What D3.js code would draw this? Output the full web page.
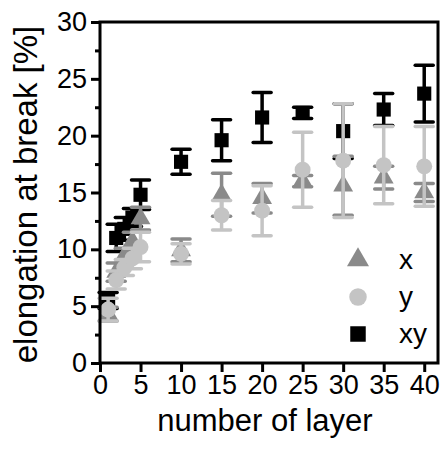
<!DOCTYPE html>
<html>
<head>
<meta charset="utf-8">
<script src="https://cdn.jsdelivr.net/npm/d3@7"></script>
<style>
  body { margin: 0; background: #fff; }
  svg { display: block; font-family: "Liberation Sans", Arial, sans-serif; }
</style>
</head>
<body>
<svg id="chart"></svg>
<script>
// number of layers on the x axis
const layers = [1, 2, 3, 4, 5, 10, 15, 20, 25, 30, 35, 40]

// elongation at break [%] and standard deviation, per series
const xMean = [4.3, 8.0, 9.4, 10.7, 12.7, 9.9, 14.8, 14.5, 16.0, 15.6, 16.3, 15.0]
const xErr  = [0.6, 0.8, 0.7, 0.8, 1.0, 1.0, 1.9, 1.3, 0.5, 2.6, 1.0, 0.8]
const yMean = [4.7, 7.3, 8.4, 9.2, 10.2, 9.6, 13.0, 13.4, 17.0, 17.8, 17.4, 17.3]
const yErr  = [1.0, 0.8, 0.7, 0.9, 1.3, 0.9, 1.3, 2.2, 3.3, 5.0, 3.4, 3.5]
const xyMean = [5.5, 11.0, 11.8, 12.8, 14.8, 17.7, 19.6, 21.6, 22.0, 20.4, 22.3, 23.7]
const xyErr  = [0.7, 1.2, 1.0, 0.8, 1.3, 1.1, 1.8, 2.2, 0.5, 2.4, 1.4, 2.5]

const xTicks = [0, 5, 10, 15, 20, 25, 30, 35, 40]
const yTicks = [0, 5, 10, 15, 20, 25, 30]

const seriesNames = ["x", "y", "xy"]

function drawChart() {
    let
        width = 440,
        height = 460,
        left = 100, right = 438, top = 22, bottom = 363

    let svg = d3.select("#chart")
        .attr("width", width)
        .attr("height", height)

    let x_scale = d3.scaleLinear().domain([0, 41.7]).range([left, right])
    let y_scale = d3.scaleLinear().domain([0, 30]).range([bottom, top])

    // series drawn in this order: xy below, then x, then y on top
    let series = [
        { name: "xy", mean: xyMean, err: xyErr, color: "#000000", shape: d3.symbolSquare, size: 200 },
        { name: "x",  mean: xMean,  err: xErr,  color: "#8a8a8a", shape: d3.symbolTriangle, size: 170 },
        { name: "y",  mean: yMean,  err: yErr,  color: "#c4c4c4", shape: d3.symbolCircle, size: 200 }
    ]

    let capW = 9

    series.forEach(s => {
        let data = layers.map((l, i) => ({ l: l, v: s.mean[i], e: s.err[i] }))
        let g = svg.append("g")

        let bars = g.selectAll("g.err").data(data).join("g").attr("class", "err")
        bars.append("line")
            .attr("x1", d => x_scale(d.l)).attr("x2", d => x_scale(d.l))
            .attr("y1", d => y_scale(d.v - d.e)).attr("y2", d => y_scale(d.v + d.e))
            .attr("stroke", s.color).attr("stroke-width", 3.5)
        bars.append("line")
            .attr("x1", d => x_scale(d.l) - capW).attr("x2", d => x_scale(d.l) + capW)
            .attr("y1", d => y_scale(d.v + d.e)).attr("y2", d => y_scale(d.v + d.e))
            .attr("stroke", s.color).attr("stroke-width", 3.5).attr("stroke-linecap", "round")
        bars.append("line")
            .attr("x1", d => x_scale(d.l) - capW).attr("x2", d => x_scale(d.l) + capW)
            .attr("y1", d => y_scale(d.v - d.e)).attr("y2", d => y_scale(d.v - d.e))
            .attr("stroke", s.color).attr("stroke-width", 3.5).attr("stroke-linecap", "round")

        g.selectAll("path.pt").data(data).join("path")
            .attr("class", "pt")
            .attr("d", d3.symbol().type(s.shape).size(s.size))
            .attr("transform", d => `translate(${x_scale(d.l)}, ${y_scale(d.v)})`)
            .attr("fill", s.color)
    })

    // axes
    let yAxis = svg.append("g")
        .attr("transform", `translate(${left}, 0)`)
        .call(d3.axisLeft(y_scale).tickValues(yTicks).tickSize(9).tickPadding(4).tickFormat(d3.format("d")))
    let yMinor = svg.append("g")
        .attr("transform", `translate(${left}, 0)`)
        .call(d3.axisLeft(y_scale).tickValues(d3.range(2.5, 30, 5)).tickSize(5).tickFormat(""))

    let xAxis = svg.append("g")
        .attr("transform", `translate(0, ${bottom})`)
        .call(d3.axisBottom(x_scale).tickValues(xTicks).tickSize(9).tickPadding(3).tickFormat(d3.format("d")))

    svg.selectAll(".domain").remove()
    svg.selectAll(".tick line").attr("stroke", "#000").attr("stroke-width", 3)
    svg.selectAll(".tick text")
        .attr("fill", "#000")
        .style("font-size", "27px")
        .style("font-family", "'Liberation Sans', Arial, sans-serif")

    // frame
    svg.append("rect")
        .attr("x", left).attr("y", top)
        .attr("width", right - left).attr("height", bottom - top)
        .attr("fill", "none").attr("stroke", "#000").attr("stroke-width", 3)

    // axis titles
    svg.append("text")
        .attr("transform", `translate(37, ${(top + bottom) / 2 + 2}) rotate(-90)`)
        .attr("text-anchor", "middle")
        .style("font-size", "33px")
        .text("elongation at break [%]")

    svg.append("text")
        .attr("x", 265).attr("y", 431)
        .attr("text-anchor", "middle")
        .style("font-size", "31px")
        .text("number of layer")

    // legend
    let legendOrder = [series[1], series[2], series[0]]
    let leg = svg.append("g")
    legendOrder.forEach((s, i) => {
        let cy = 260 + i * 37
        leg.append("path")
            .attr("d", d3.symbol().type(s.shape).size(s.size + 40))
            .attr("transform", `translate(358, ${cy})`)
            .attr("fill", s.color)
        leg.append("text")
            .attr("x", 399).attr("y", cy + 9)
            .style("font-size", "28px")
            .text(s.name)
    })
}

drawChart()
</script>
</body>
</html>
